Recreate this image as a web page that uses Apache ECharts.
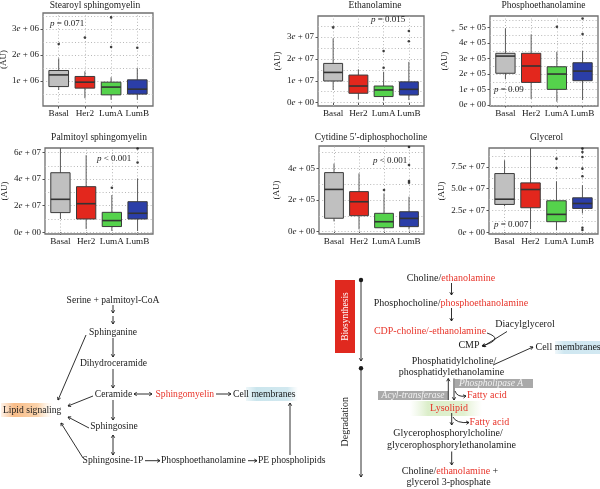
<!DOCTYPE html>
<html><head><meta charset="utf-8">
<script src="https://cdn.jsdelivr.net/npm/echarts@6/dist/echarts.min.js"></script>
<style>html,body{margin:0;padding:0;background:#fff}#c{width:600px;height:489px}</style>
</head><body><div id="c"></div>
<script>
// ---------------- DATA ----------------
const categories = ['Basal', 'Her2', 'LumA', 'LumB'];
const groupColors = ['#c0c0c0', '#e3271d', '#55d24c', '#2b3ea8'];

const panelTitles = ['Stearoyl sphingomyelin', 'Ethanolamine', 'Phosphoethanolamine',
  'Palmitoyl sphingomyelin', 'Cytidine 5\u2032-diphosphocholine', 'Glycerol'];
const pValues = ['= 0.071', '= 0.015', '= 0.09', '< 0.001', '< 0.001', '= 0.007'];

// box stats: [lower whisker, Q1, median, Q3, upper whisker]
const stearoylBox = [[0.65e6, 0.78e6, 1.23e6, 1.40e6, 1.87e6], [0.33e6, 0.72e6, 0.95e6, 1.17e6, 1.37e6],
  [0.27e6, 0.46e6, 0.76e6, 0.95e6, 1.14e6], [0.27e6, 0.49e6, 0.68e6, 1.04e6, 1.49e6]];
const stearoylOut = [['Basal', 2.42e6], ['Her2', 2.67e6], ['LumA', 2.31e6], ['LumA', 3.45e6], ['LumB', 2.28e6]];

const ethanolamineBox = [[0.58e7, 0.99e7, 1.38e7, 1.79e7, 2.93e7], [0.15e7, 0.43e7, 0.76e7, 1.26e7, 1.52e7],
  [0.09e7, 0.28e7, 0.58e7, 0.76e7, 1.41e7], [0.12e7, 0.35e7, 0.61e7, 0.95e7, 1.86e7]];
const ethanolamineOut = [['Basal', 3.43e7], ['LumA', 1.59e7], ['LumA', 2.35e7], ['LumB', 2.8e7], ['LumB', 3.27e7]];

const phosphoBox = [[1.68e5, 2.05e5, 3.16e5, 3.34e5, 4.95e5], [0.39e5, 1.46e5, 2.52e5, 3.34e5, 4.56e5],
  [0.21e5, 1.01e5, 2.0e5, 2.47e5, 3.44e5], [0.32e5, 1.57e5, 2.19e5, 2.73e5, 3.5e5]];
const phosphoOut = [['LumA', 5.05e5], ['LumB', 4.58e5], ['LumB', 5.59e5]];

const palmitoylBox = [[1.0e7, 1.48e7, 2.48e7, 4.48e7, 6.34e7], [0.25e7, 1.0e7, 2.15e7, 3.43e7, 5.8e7],
  [0.1e7, 0.43e7, 0.88e7, 1.5e7, 2.8e7], [0.1e7, 1.0e7, 1.43e7, 2.3e7, 4.05e7]];
const palmitoylOut = [['LumA', 3.35e7], ['LumB', 5.25e7], ['LumB', 6.3e7]];

const cytidineBox = [[0.65e5, 0.85e5, 2.67e5, 3.73e5, 4.3e5], [0.15e5, 1.01e5, 1.89e5, 2.53e5, 3.68e5],
  [0.15e5, 0.25e5, 0.63e5, 1.16e5, 2.42e5], [0.15e5, 0.32e5, 0.84e5, 1.26e5, 2.21e5]];
const cytidineOut = [['LumA', 2.63e5], ['LumB', 3.09e5], ['LumB', 3.2e5], ['LumB', 4.21e5], ['LumB', 5.35e5]];

const glycerolBox = [[3.0e7, 3.2e7, 3.8e7, 6.74e7, 8.26e7], [0.38e7, 2.82e7, 4.91e7, 5.67e7, 9.67e7],
  [0.27e7, 1.22e7, 2.06e7, 3.62e7, 5.86e7], [2.17e7, 2.74e7, 3.31e7, 3.96e7, 5.4e7]];
const glycerolOut = [['LumA', 7.38e7], ['LumA', 8.45e7], ['LumB', 9.6e7], ['LumB', 9.2e7], ['LumB', 8.64e7],
  ['LumB', 7.3e7], ['LumB', 6.43e7], ['LumB', 0.53e7], ['LumB', 0.27e7]];

// axis ticks and labels
const stearoylTicks = [1e6, 2e6, 3e6];
const stearoylTickLabels = ['1e + 06', '2e + 06', '3e + 06'];
const stearoylGridLines = [0.5e6, 1e6, 1.5e6, 2e6, 2.5e6, 3e6, 3.5e6];
const ethanolamineTicks = [0, 1e7, 2e7, 3e7];
const ethanolamineTickLabels = ['0e + 00', '1e + 07', '2e + 07', '3e + 07'];
const ethanolamineGridLines = [0, 0.5e7, 1e7, 1.5e7, 2e7, 2.5e7, 3e7, 3.5e7];
const phosphoTicks = [0, 1e5, 2e5, 3e5, 4e5, 5e5];
const phosphoTickLabels = ['0e + 00', '1e + 05', '2e + 05', '3e + 05', '4e + 05', '5e + 05'];
const phosphoGridLines = [0, 0.5e5, 1e5, 1.5e5, 2e5, 2.5e5, 3e5, 3.5e5, 4e5, 4.5e5, 5e5, 5.5e5];
const palmitoylTicks = [0, 2e7, 4e7, 6e7];
const palmitoylTickLabels = ['0e + 00', '2e + 07', '4e + 07', '6e + 07'];
const palmitoylGridLines = [0, 1e7, 2e7, 3e7, 4e7, 5e7, 6e7];
const cytidineTicks = [0, 2e5, 4e5];
const cytidineTickLabels = ['0e + 00', '2e + 05', '4e + 05'];
const cytidineGridLines = [0, 1e5, 2e5, 3e5, 4e5, 5e5];
const glycerolTicks = [0, 2.5e7, 5e7, 7.5e7];
const glycerolTickLabels = ['0e + 00', '2.5e + 07', '5.0e + 07', '7.5e + 07'];
const glycerolGridLines = [0, 1.25e7, 2.5e7, 3.75e7, 5e7, 6.25e7, 7.5e7, 8.75e7];

// ---------------- LAYOUT ----------------
const SERIF = '"Liberation Serif", "DejaVu Serif", serif';
const panels = [
  {box: stearoylBox, out: stearoylOut, ticks: stearoylTicks, labels: stearoylTickLabels, lines: stearoylGridLines},
  {box: ethanolamineBox, out: ethanolamineOut, ticks: ethanolamineTicks, labels: ethanolamineTickLabels, lines: ethanolamineGridLines},
  {box: phosphoBox, out: phosphoOut, ticks: phosphoTicks, labels: phosphoTickLabels, lines: phosphoGridLines},
  {box: palmitoylBox, out: palmitoylOut, ticks: palmitoylTicks, labels: palmitoylTickLabels, lines: palmitoylGridLines},
  {box: cytidineBox, out: cytidineOut, ticks: cytidineTicks, labels: cytidineTickLabels, lines: cytidineGridLines},
  {box: glycerolBox, out: glycerolOut, ticks: glycerolTicks, labels: glycerolTickLabels, lines: glycerolGridLines}
];
const layout = [
  {x: 43, y: 13, w: 110, h: 93, min: 0.03e6, max: 3.62e6, tx: 95, ty: 5, px: 50, py: 23.3, gap: 32},
  {x: 318, y: 16, w: 106, h: 90, min: -0.15e7, max: 3.95e7, tx: 375, ty: 5, px: 371, py: 19.3, gap: 36},
  {x: 490, y: 16, w: 108, h: 90, min: -0.065e5, max: 5.75e5, tx: 543.5, ty: 5, px: 494, py: 89.3, gap: 41},
  {x: 45, y: 148, w: 108, h: 86, min: -0.13e7, max: 6.34e7, tx: 99, ty: 137.7, px: 97, py: 159, gap: 36},
  {x: 319, y: 146, w: 105, h: 88, min: -0.145e5, max: 5.41e5, tx: 371, ty: 137.7, px: 373, py: 161, gap: 38},
  {x: 489, y: 148, w: 109, h: 86, min: -0.19e7, max: 9.67e7, tx: 546.5, ty: 137.7, px: 494, py: 224.3, gap: 43}
];

function renderBox(params, api) {
  const ci = api.value(0);
  const low = api.coord([ci, api.value(1)]), q1 = api.coord([ci, api.value(2)]),
    med = api.coord([ci, api.value(3)]), q3 = api.coord([ci, api.value(4)]), high = api.coord([ci, api.value(5)]);
  const bw = api.size([1, 0])[0] * 0.75;
  const x = low[0], x0 = x - bw / 2;
  const ws = {stroke: '#5a5a5a', lineWidth: 1};
  return {type: 'group', children: [
    {type: 'line', shape: {x1: x, y1: low[1], x2: x, y2: q1[1]}, style: ws},
    {type: 'line', shape: {x1: x, y1: q3[1], x2: x, y2: high[1]}, style: ws},
    {type: 'rect', shape: {x: x0, y: q3[1], width: bw, height: q1[1] - q3[1]},
      style: {fill: groupColors[params.dataIndex], stroke: '#3a3a3a', lineWidth: 1}},
    {type: 'line', shape: {x1: x0, y1: med[1], x2: x0 + bw, y2: med[1]}, style: {stroke: '#333', lineWidth: 1.6}}
  ]};
}

const grids = [], xAxes = [], yAxes = [], series = [], graphics = [];
panels.forEach((p, i) => {
  const L = layout[i];
  const inset = L.w * 0.1 / 4.2;
  const fi = 2 * i, di = 2 * i + 1;
  grids.push({left: L.x, top: L.y, width: L.w, height: L.h, show: true, borderColor: '#707070', borderWidth: 1.3,
    backgroundColor: 'rgba(0,0,0,0)', outerBoundsMode: 'none', containLabel: false});
  grids.push({left: L.x + inset, top: L.y, width: L.w - 2 * inset, height: L.h, show: false, outerBoundsMode: 'none', containLabel: false});
  xAxes.push({gridIndex: fi, type: 'value', min: 0, max: 1, show: false});
  xAxes.push({gridIndex: di, type: 'category', data: categories, axisLine: {show: false},
    axisTick: {show: true, alignWithLabel: true, length: 2.5, lineStyle: {color: '#555', width: 1}},
    axisLabel: {margin: 3.5, fontFamily: SERIF, fontSize: 9.2, color: '#1a1a1a', interval: 0},
    splitLine: {show: false}});
  const fmt = v => {
    const k = p.ticks.findIndex(t => Math.abs(t - v) <= Math.abs(L.max) * 1e-6);
    return k >= 0 ? p.labels[k].replace('e', '{i|e}') : '';
  };
  yAxes.push({gridIndex: fi, type: 'value', min: L.min, max: L.max,
    axisLine: {show: false},
    axisTick: {show: true, length: 2.5, customValues: p.ticks, lineStyle: {color: '#555'}},
    axisLabel: {customValues: p.ticks, formatter: fmt, margin: 4, fontFamily: SERIF, fontSize: 9, color: '#1a1a1a',
      rich: {i: {fontStyle: 'italic', fontFamily: SERIF, fontSize: 9, color: '#1a1a1a'}}},
    splitLine: {show: false},
    name: '(AU)', nameLocation: 'middle', nameGap: L.gap,
    nameTextStyle: {fontFamily: SERIF, fontSize: 9, color: '#1a1a1a'}});
  yAxes.push({gridIndex: di, type: 'value', min: L.min, max: L.max, show: false});

  const gl = {color: '#b8b8b8', width: 1, type: [1, 2.2]};
  series.push({type: 'scatter', xAxisIndex: fi, yAxisIndex: fi, data: [], symbolSize: 0, silent: true, z: 1,
    markLine: {silent: true, symbol: 'none', animation: false, label: {show: false}, lineStyle: gl,
      emphasis: {disabled: true}, data: p.lines.map(v => ({yAxis: v}))}});
  series.push({type: 'scatter', xAxisIndex: di, yAxisIndex: di, data: [], symbolSize: 0, silent: true, z: 1,
    markLine: {silent: true, symbol: 'none', animation: false, label: {show: false}, lineStyle: gl,
      emphasis: {disabled: true}, data: categories.map(c => ({xAxis: c}))}});
  series.push({type: 'custom', xAxisIndex: di, yAxisIndex: di, z: 10, silent: true, renderItem: renderBox,
    encode: {x: 0, y: [1, 2, 3, 4, 5]},
    data: p.box.map((b, k) => [k].concat(b))});
  series.push({type: 'scatter', xAxisIndex: di, yAxisIndex: di, z: 11, silent: true, symbolSize: 2.6,
    itemStyle: {color: '#111'}, data: p.out});

  graphics.push({type: 'text', x: L.tx, y: L.ty, silent: true,
    style: {text: panelTitles[i], fontFamily: SERIF, fontSize: 9.5, fill: '#1a1a1a', align: 'center', verticalAlign: 'middle'}});
  graphics.push({type: 'text', x: L.px, y: L.py, silent: true, z: 50,
    style: {text: '{i|p} ' + pValues[i], fontFamily: SERIF, fontSize: 9, fill: '#1a1a1a', align: 'left', verticalAlign: 'middle',
      rich: {i: {fontStyle: 'italic', fontFamily: SERIF, fontSize: 9, fill: '#1a1a1a'}}}});
});
graphics.push({type: 'text', x: 453, y: 31, silent: true,
  style: {text: '+', fontFamily: SERIF, fontSize: 7, fill: '#333', align: 'center', verticalAlign: 'middle'}});

// ---------------- PATHWAY DIAGRAMS ----------------
const INK = '#1a1a1a', RED = '#e8352b';
function txt(x, y, text, o) {
  o = o || {};
  const st = {text: text, fontFamily: SERIF, fontSize: o.fs || 9.6, fill: o.fill || INK, align: o.align || 'center',
    verticalAlign: 'middle', fontStyle: o.it ? 'italic' : 'normal'};
  if (o.rich) st.rich = o.rich;
  return {type: 'text', x: x, y: y, rotation: o.rot || 0, silent: true, z: 100, style: st};
}
function head(x, y, ang, s) {
  s = s || 3.2;
  const a1 = ang + Math.PI - 0.55, a2 = ang + Math.PI + 0.55;
  return {type: 'polyline', silent: true, z: 100,
    shape: {points: [[x + s * Math.cos(a1), y + s * Math.sin(a1)], [x, y], [x + s * Math.cos(a2), y + s * Math.sin(a2)]]},
    style: {stroke: INK, lineWidth: 0.9, fill: null}};
}
function arrow(x1, y1, x2, y2, both, col, lw) {
  const ang = Math.atan2(y2 - y1, x2 - x1);
  const els = [{type: 'line', silent: true, z: 100, shape: {x1: x1, y1: y1, x2: x2, y2: y2},
    style: {stroke: col || INK, lineWidth: lw || 0.9}}, head(x2, y2, ang)];
  if (both) els.push(head(x1, y1, ang + Math.PI));
  return els;
}
function curve(x1, y1, cx, cy, x2, y2) {
  const ang = Math.atan2(y2 - cy, x2 - cx);
  return [{type: 'bezierCurve', silent: true, z: 100, shape: {x1: x1, y1: y1, cpx1: cx, cpy1: cy, x2: x2, y2: y2},
    style: {stroke: INK, lineWidth: 0.9, fill: null}}, head(x2, y2, ang)];
}
const RK = {k: {fill: INK, fontFamily: SERIF, fontSize: 10}, r: {fill: RED, fontFamily: SERIF, fontSize: 10}};

// left diagram: sphingolipid pathway
graphics.push(
  {type: 'rect', silent: true, z: 90, shape: {x: 1, y: 403, width: 52, height: 14},
    style: {fill: {type: 'linear', x: 0, y: 0, x2: 1, y2: 0,
      colorStops: [{offset: 0, color: 'rgba(250,190,140,0.2)'}, {offset: 0.25, color: 'rgba(248,185,130,0.95)'},
        {offset: 0.7, color: 'rgba(250,200,150,0.8)'}, {offset: 1, color: 'rgba(255,230,200,0)'}]}}},
  {type: 'rect', silent: true, z: 90, shape: {x: 246, y: 387, width: 52, height: 14},
    style: {fill: {type: 'linear', x: 0, y: 0, x2: 1, y2: 0,
      colorStops: [{offset: 0, color: 'rgba(200,228,236,0.3)'}, {offset: 0.2, color: 'rgba(200,228,236,0.95)'},
        {offset: 0.8, color: 'rgba(205,230,238,0.9)'}, {offset: 1, color: 'rgba(215,235,240,0)'}]}}},
  txt(113, 300, 'Serine + palmitoyl-CoA'),
  ...arrow(113, 305, 113, 313), ...arrow(113, 316, 113, 324),
  txt(113, 332.7, 'Sphinganine'),
  ...arrow(113, 338, 113, 357),
  txt(113.5, 363.5, 'Dihydroceramide'),
  ...arrow(113, 369, 113, 388),
  txt(113.5, 394, 'Ceramide'),
  ...arrow(134, 394, 152, 394, true),
  txt(155.5, 394, 'Sphingomyelin', {align: 'left', fill: RED}),
  ...arrow(216, 394, 231, 394),
  txt(233, 394, 'Cell membranes', {align: 'left'}),
  txt(3, 410, 'Lipid signaling', {align: 'left'}),
  ...arrow(86, 335, 58, 400),
  ...arrow(93, 396, 68, 406),
  ...arrow(89, 428, 68, 417),
  ...arrow(83, 458, 61, 423),
  ...arrow(113, 400, 113, 420),
  txt(114, 426.7, 'Sphingosine'),
  ...arrow(113, 435, 113, 455, true),
  txt(113, 460.7, 'Sphingosine-1P'),
  ...arrow(145, 460.7, 160, 460.7),
  txt(161, 460.7, 'Phosphoethanolamine', {align: 'left'}),
  ...arrow(248, 460.7, 257, 460.7),
  txt(258, 460.7, 'PE phospholipids', {align: 'left'}),
  ...arrow(290, 455, 290, 403)
);

// right diagram: glycerophospholipid pathway
graphics.push(
  {type: 'rect', silent: true, z: 95, shape: {x: 335, y: 280, width: 20, height: 73}, style: {fill: '#e0291f'}},
  txt(345, 316.5, 'Biosynthesis', {fs: 9.5, fill: '#fff', rot: Math.PI / 2}),
  txt(345, 421.7, 'Degradation', {fs: 10, rot: Math.PI / 2}),
  {type: 'circle', silent: true, z: 100, shape: {cx: 361, cy: 280, r: 2.2}, style: {fill: INK}},
  ...arrow(361, 280, 361, 361),
  {type: 'circle', silent: true, z: 100, shape: {cx: 361, cy: 368.3, r: 2.2}, style: {fill: INK}},
  ...arrow(361, 368.3, 361, 477),
  txt(451, 278.3, '{k|Choline/}{r|ethanolamine}', {rich: RK}),
  ...arrow(451.5, 283, 451.5, 295),
  txt(451, 303.3, '{k|Phosphocholine/}{r|phosphoethanolamine}', {rich: RK}),
  ...arrow(451.5, 308, 451.5, 321),
  txt(430, 331, 'CDP-choline/-ethanolamine', {fs: 10, fill: RED}),
  txt(525, 324, 'Diacylglycerol', {fs: 10}),
  ...curve(487, 333, 505, 339, 482, 346),
  ...arrow(507, 331.5, 483, 346.5),
  txt(469, 345, 'CMP', {fs: 10}),
  {type: 'rect', silent: true, z: 90, shape: {x: 555, y: 341, width: 45, height: 13},
    style: {fill: {type: 'linear', x: 0, y: 0, x2: 1, y2: 0,
      colorStops: [{offset: 0, color: 'rgba(205,230,240,0.3)'}, {offset: 0.2, color: 'rgba(205,230,240,0.95)'},
        {offset: 1, color: 'rgba(205,230,240,0.9)'}]}}},
  txt(535.5, 347.3, 'Cell membranes', {fs: 10, align: 'left'}),
  ...arrow(493, 365, 533, 347),
  txt(454, 361, 'Phosphatidylcholine/', {fs: 10}),
  txt(451.5, 372.7, 'phosphatidylethanolamine', {fs: 10}),
  {type: 'rect', silent: true, z: 95, shape: {x: 455, y: 379, width: 78, height: 9}, style: {fill: '#a9a9a9'}},
  txt(459, 383.5, 'Phospholipase A', {fs: 9.5, it: true, fill: '#f2f2f2', align: 'left'}),
  {type: 'rect', silent: true, z: 95, shape: {x: 378, y: 391, width: 70, height: 9}, style: {fill: '#a9a9a9'}},
  txt(413, 395.5, 'Acyl-transferase', {fs: 9.5, it: true, fill: '#f2f2f2'}),
  ...arrow(448.3, 400, 448.3, 378.5),
  ...arrow(454, 378.5, 454, 400),
  ...curve(455, 391, 457, 397.5, 466, 396),
  txt(467, 395, 'Fatty acid', {fs: 10, fill: RED, align: 'left'}),
  {type: 'rect', silent: true, z: 90, shape: {x: 410, y: 401, width: 72, height: 15},
    style: {fill: {type: 'linear', x: 0, y: 0, x2: 1, y2: 0,
      colorStops: [{offset: 0, color: 'rgba(225,240,210,0)'}, {offset: 0.25, color: 'rgba(215,236,195,0.9)'},
        {offset: 0.75, color: 'rgba(220,238,200,0.85)'}, {offset: 1, color: 'rgba(230,242,215,0)'}]}}},
  txt(449, 408.3, 'Lysolipid', {fs: 10, fill: RED}),
  ...arrow(451.7, 413, 451.7, 425),
  ...curve(453, 417, 456, 423.5, 469, 422.5),
  txt(469.5, 422.3, 'Fatty acid', {fs: 10, fill: RED, align: 'left'}),
  txt(448, 433.3, 'Glycerophosphorylcholine/', {fs: 10}),
  txt(451.5, 445.7, 'glycerophosphorylethanolamine', {fs: 10}),
  ...arrow(451.7, 451.5, 451.7, 465),
  txt(450, 471, '{k|Choline/}{r|ethanolamine}{k| +}', {rich: RK}),
  txt(448.5, 482.3, 'glycerol 3-phosphate', {fs: 10})
);

const chart = echarts.init(document.getElementById('c'), null, {renderer: 'canvas'});
chart.setOption({
  animation: false,
  backgroundColor: '#fff',
  grid: grids, xAxis: xAxes, yAxis: yAxes, series: series,
  graphic: {elements: graphics}
});
</script></body></html>
